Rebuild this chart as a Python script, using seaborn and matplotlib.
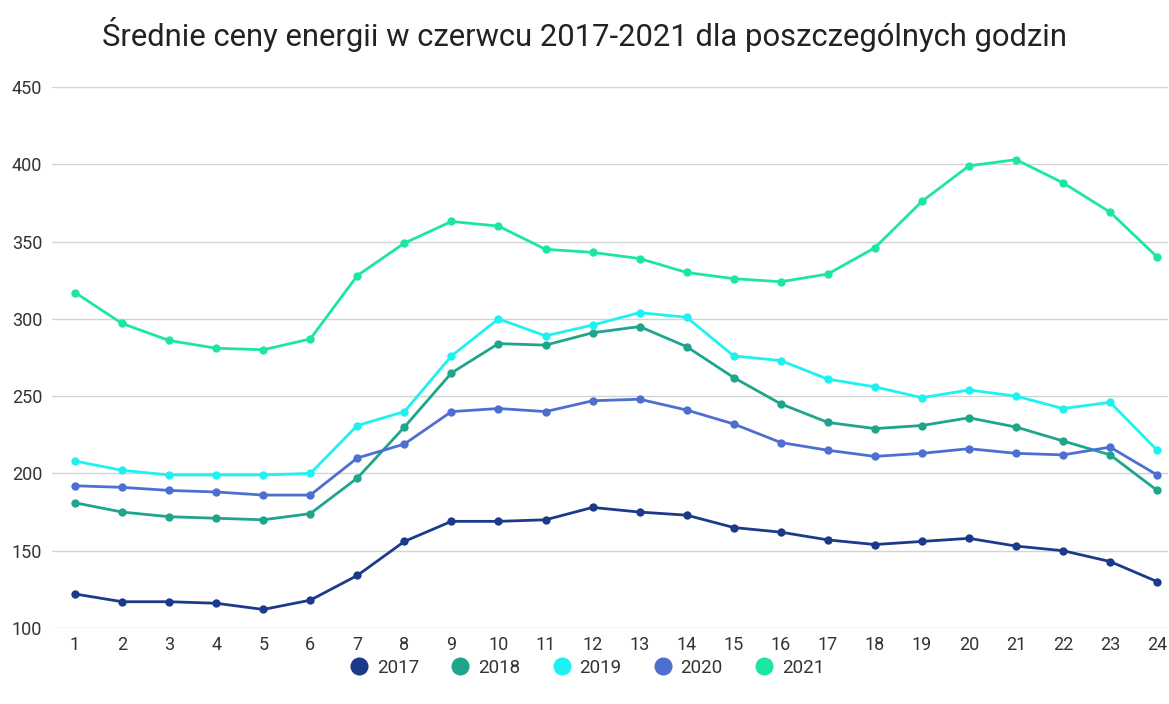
import numpy as np
import pandas as pd
import matplotlib
matplotlib.use("Agg")
import matplotlib.pyplot as plt
import seaborn as sns
from matplotlib.lines import Line2D

hours = list(range(1, 25))
years = ['2017', '2018', '2019', '2020', '2021']

# srednie ceny (PLN/MWh)
y2017 = [122, 117, 117, 116, 112, 118, 134, 156, 169, 169, 170, 178,
         175, 173, 165, 162, 157, 154, 156, 158, 153, 150, 143, 130]
y2018 = [181, 175, 172, 171, 170, 174, 197, 230, 265, 284, 283, 291,
         295, 282, 262, 245, 233, 229, 231, 236, 230, 221, 212, 189]
y2019 = [208, 202, 199, 199, 199, 200, 231, 240, 276, 300, 289, 296,
         304, 301, 276, 273, 261, 256, 249, 254, 250, 242, 246, 215]
y2020 = [192, 191, 189, 188, 186, 186, 210, 219, 240, 242, 240, 247,
         248, 241, 232, 220, 215, 211, 213, 216, 213, 212, 217, 199]
y2021 = [317, 297, 286, 281, 280, 287, 328, 349, 363, 360, 345, 343,
         339, 330, 326, 324, 329, 346, 376, 399, 403, 388, 369, 340]

colors = ['#1b3a8a', '#1fa58c', '#1ef2f0', '#4d6fd0', '#1de6a2']

df = pd.DataFrame({'hour': hours * 5,
                   'year': np.repeat(years, 24),
                   'price': y2017 + y2018 + y2019 + y2020 + y2021})

sns.set_style('white')
plt.rcParams['font.family'] = ['Roboto', 'DejaVu Sans']

fig = plt.figure(figsize=(11.69, 7.04), dpi=100)
ax = fig.add_axes([52 / 1169, 1 - 628 / 704, 1116 / 1169, 541 / 704])

sns.lineplot(data=df, x='hour', y='price', hue='year', palette=colors,
             marker='o', markersize=6, markeredgewidth=0, linewidth=2,
             legend=False, ax=ax)

ax.set_xlim(0.51, 24.23)
ax.set_ylim(100, 450)
ax.set_xticks(hours)
ax.set_yticks(range(100, 451, 50))
ax.grid(axis='y', color='#d3d3d3', linewidth=1)
ax.set_axisbelow(True)
for s in ax.spines.values():
    s.set_visible(False)
ax.tick_params(axis='both', length=0, labelsize=13, labelcolor='#333333')
ax.tick_params(axis='y', pad=7)
ax.tick_params(axis='x', pad=6)
ax.set_xlabel('')
ax.set_ylabel('')

fig.suptitle('Średnie ceny energii w czerwcu 2017-2021 dla poszczególnych godzin',
             y=1 - 34 / 704, va='center', fontsize=22.3, color='#222222')

handles = [Line2D([], [], marker='o', linestyle='', markersize=13,
                  markerfacecolor=c, markeredgewidth=0) for c in colors]
fig.legend(handles, years, loc='center', bbox_to_anchor=(0.5, 1 - 668 / 704),
           ncol=5, frameon=False, fontsize=13.5, handletextpad=0.2,
           handlelength=1.5, columnspacing=1.45, labelcolor='#333333')

fig.savefig('out.png', dpi=100)
